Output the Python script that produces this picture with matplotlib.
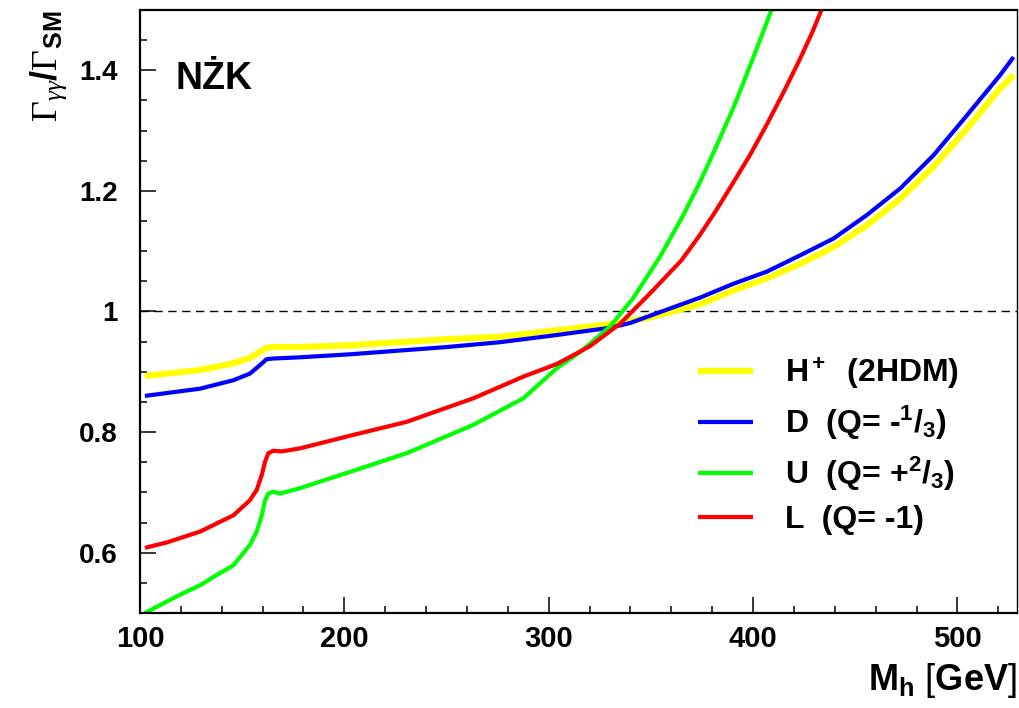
import matplotlib
matplotlib.use('Agg')
import matplotlib.pyplot as plt
from matplotlib.ticker import MultipleLocator

plt.rcParams['font.family'] = ['Liberation Sans', 'DejaVu Sans']
plt.rcParams['mathtext.fontset'] = 'custom'
plt.rcParams['mathtext.rm'] = 'Liberation Serif'
plt.rcParams['mathtext.it'] = 'Liberation Serif:italic'
plt.rcParams['mathtext.bf'] = 'Liberation Sans:bold'

# H+ (2HDM)
h_x = [102.4, 129.4, 145.7, 153.8, 158.7, 162, 165.2, 178.3, 202.8, 250, 276, 304, 330, 349.6,
       374, 390.4, 406.7, 423, 439.4, 455.7, 472, 488.3, 504.6, 520.9, 527.5]
h_y = [0.893, 0.903, 0.914, 0.923, 0.933, 0.940, 0.941, 0.941, 0.944, 0.954, 0.958, 0.969, 0.979,
       0.990, 1.012, 1.035, 1.055, 1.079, 1.107, 1.143, 1.187, 1.240, 1.303, 1.370, 1.392]

# D (Q=-1/3)
d_x = [102.4, 129.4, 145.7, 153.8, 158.7, 162, 165.2, 178.3, 202.8, 250, 276, 304, 330, 340,
       349.6, 374.1, 390.4, 406.7, 423, 439.4, 455.7, 472, 488.3, 504.6, 520.9, 527.5]
d_y = [0.860, 0.872, 0.886, 0.897, 0.911, 0.921, 0.922, 0.924, 0.929, 0.941, 0.949, 0.961, 0.973,
       0.981, 0.993, 1.023, 1.046, 1.066, 1.093, 1.121, 1.160, 1.204, 1.259, 1.325, 1.392, 1.422]

# U (Q=+2/3)
u_x = [102.4, 113.1, 121.2, 129.4, 137.5, 145.7, 153.8, 157.1, 159.6, 161.2, 162.8, 165.2, 168.5,
       178.3, 202.8, 230.5, 263.1, 287.6, 304, 315.4, 330, 341.3, 354.5, 365.9, 374.1, 382.3,
       390.4, 398.6, 405.1, 409.2]
u_y = [0.500, 0.519, 0.533, 0.546, 0.563, 0.579, 0.613, 0.635, 0.662, 0.687, 0.698, 0.701, 0.698,
       0.707, 0.734, 0.765, 0.812, 0.856, 0.906, 0.933, 0.975, 1.022, 1.091, 1.160, 1.215, 1.276,
       1.338, 1.408, 1.465, 1.502]

# L (Q=-1)
l_x = [102.4, 113.1, 129.4, 145.7, 153.8, 157.1, 159.6, 161.2, 162.8, 165.2, 169.4, 178.3, 202.8,
       230.5, 263.1, 287.6, 304, 320, 335, 349.6, 365, 374, 382, 390, 398.6, 406.7, 415, 423,
       429, 433.7]
l_y = [0.608, 0.617, 0.635, 0.662, 0.687, 0.704, 0.729, 0.751, 0.765, 0.769, 0.768, 0.773, 0.794,
       0.817, 0.856, 0.892, 0.913, 0.942, 0.980, 1.030, 1.085, 1.127, 1.168, 1.212, 1.260, 1.310,
       1.364, 1.419, 1.463, 1.502]

labels = [r'$\mathbf{H^+}$  (2HDM)',
          r'D  (Q= -$\mathbf{{}^1/_3}$)',
          r'U  (Q= +$\mathbf{{}^2/_3}$)',
          'L  (Q= -1)']

fig = plt.figure(figsize=(10.19, 7.08), dpi=100)
ax = fig.add_axes([0.1374, 0.1342, 0.8603, 0.8517])

ax.axhline(1.0, color='black', lw=1, dashes=(6, 4))
ax.plot(h_x, h_y, color='#ffff00', lw=4.5, label=labels[0], solid_capstyle='butt')
ax.plot(d_x, d_y, color='#0000ff', lw=3, label=labels[1], solid_capstyle='butt')
ax.plot(u_x, u_y, color='#00ff00', lw=3, label=labels[2], solid_capstyle='butt')
ax.plot(l_x, l_y, color='#ff0000', lw=3, label=labels[3], solid_capstyle='butt')

ax.set_xlim(100, 529)
ax.set_ylim(0.5, 1.5)
ax.xaxis.set_major_locator(MultipleLocator(100))
ax.xaxis.set_minor_locator(MultipleLocator(20))
ax.yaxis.set_major_locator(MultipleLocator(0.2))
ax.yaxis.set_minor_locator(MultipleLocator(0.05))
ax.set_yticks([0.6, 0.8, 1.0, 1.2, 1.4], ['0.6', '0.8', '1', '1.2', '1.4'])

ax.tick_params(which='both', direction='in', top=False, right=False, width=1.1)
ax.tick_params(which='major', length=11.5)
ax.tick_params(which='minor', length=5)
ax.tick_params(axis='x', labelsize=21, pad=9)
ax.tick_params(axis='y', labelsize=20, pad=16)
for lab in ax.get_xticklabels() + ax.get_yticklabels():
    lab.set_fontweight('bold')

for side in ['left', 'bottom', 'top']:
    ax.spines[side].set_linewidth(1.6)
ax.spines['right'].set_linewidth(1.0)

fig.text(0.9975, 0.012, r'$\mathbf{M_h}$ [$\mathbf{GeV}$]', fontsize=26, ha='right', va='bottom')
fig.text(0.048, 0.985, r'$\Gamma_{\gamma\gamma}\mathbf{/}\Gamma_{\mathbf{SM}}$', fontsize=26,
         rotation=90, ha='center', va='top')

ax.text(0.041, 0.8685, 'NŻK', transform=ax.transAxes, fontsize=27, fontweight='bold')

ax.legend(loc='upper left', bbox_to_anchor=(0.6365, 0.427), frameon=False,
          handlelength=1.72, handletextpad=1.0, labelspacing=0.38, borderpad=0, borderaxespad=0,
          prop={'weight': 'bold', 'size': 23})

fig.savefig('out.png', dpi=100)
